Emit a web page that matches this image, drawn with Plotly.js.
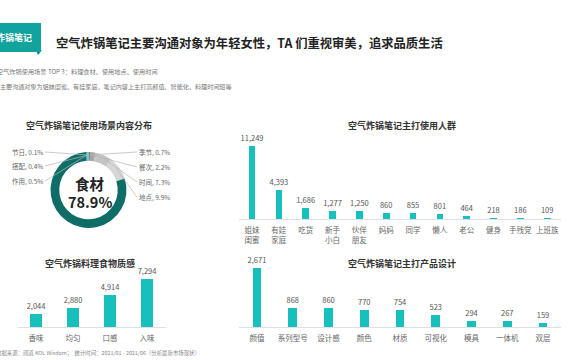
<!DOCTYPE html>
<html><head><meta charset="utf-8">
<script src="https://cdn.plot.ly/plotly-3.0.1.min.js"></script>
<style>html,body{margin:0;padding:0;background:#fff}#chart{width:570px;height:360px}</style>
</head><body><div id="chart"></div>
<script>
// ---- data ----
const sceneLabels = ['季节','餐次','时间','地点','食材','作用','搭配','节日'];
const sceneValues = [0.7, 2.2, 7.3, 9.9, 78.9, 0.5, 0.4, 0.1];
const sceneColors = ['#7a7a7a','#a6a6a6','#c4c4c4','#d6d6d6','#0e6e67','#1aa8a3','#4cc5c1','#22c3c0'];

const crowdCats = ['姐妹<br>闺蜜','有娃<br>家庭','吃货','新手<br>小白','伙伴<br>朋友','妈妈','同学','懒人','老公','健身','手残党','上班族'];
const crowdVals = [11249, 4393, 1686, 1277, 1250, 860, 855, 801, 464, 218, 186, 109];

const textureCats = ['香味','均匀','口感','入味'];
const textureVals = [2044, 2880, 4914, 7294];

const designCats = ['颜值','系列型号','设计感','颜色','材质','可视化','模具','一体机','双层'];
const designVals = [2671, 868, 860, 770, 754, 523, 294, 267, 159];

// ---- layout helpers ----
const W = 570, H = 360;
const FONT = '"Noto Sans CJK SC", "Noto Sans", sans-serif';
const px = x => x / W;
const py = y => 1 - y / H;
const BAR = '#17c0bd';

const traces = [];
// donut
const cx = 88.5, cy = 190, R = 38;
traces.push({
  type: 'pie', labels: sceneLabels, values: sceneValues, hole: 0.77,
  sort: false, direction: 'clockwise', rotation: 0,
  marker: {colors: sceneColors, line: {width: 0}},
  textinfo: 'none', hoverinfo: 'label+percent', showlegend: false,
  domain: {x: [px(cx - R), px(cx + R)], y: [py(cy + R), py(cy - R)]}
});

function barTrace(cats, vals, xa, ya, width) {
  return {
    type: 'bar', x: cats, y: vals, xaxis: xa, yaxis: ya, width: width,
    marker: {color: BAR}, text: vals.map(v => v.toLocaleString('en-US')),
    textposition: 'outside', cliponaxis: false, constraintext: 'none',
    textfont: {size: 7.5, color: '#555', family: FONT},
    showlegend: false, hoverinfo: 'x+y'
  };
}
traces.push(barTrace(crowdCats, crowdVals, 'x', 'y', 0.25));
traces.push(barTrace(textureCats, textureVals, 'x2', 'y2', 0.31));
traces.push(barTrace(designCats, designVals, 'x3', 'y3', 0.25));

function xax(domain, anchor) {
  return {domain: domain, anchor: anchor, showline: true, linecolor: '#e0e0e0', linewidth: 1,
    showgrid: false, zeroline: false, ticks: '', fixedrange: true, ticklabelstandoff: 4,
    tickfont: {size: 7.5, color: '#666', family: FONT}, tickangle: 0, automargin: false};
}
function yax(domain, anchor, max, k) {
  return {domain: domain, anchor: anchor, range: [0, max * k], visible: false, showgrid: false, zeroline: false, fixedrange: true};
}
const K = 1.12;
const layout = {
  width: W, height: H, margin: {l: 0, r: 0, t: 0, b: 0},
  paper_bgcolor: '#fff', plot_bgcolor: '#fff',
  font: {family: FONT},
  bargap: 0,
  xaxis: xax([px(238.6), px(560.6)], 'y'),
  yaxis: yax([py(219), py(219 - 73 * K)], 'x', crowdVals[0], K),
  xaxis2: xax([px(17.5), px(165.5)], 'y2'),
  yaxis2: yax([py(327), py(327 - 48 * K)], 'x2', textureVals[3], K),
  xaxis3: xax([px(239.1), px(560.9)], 'y3'),
  yaxis3: yax([py(327), py(327 - 59 * K)], 'x3', designVals[0], K),
  shapes: [
    {type: 'path', xref: 'paper', yref: 'paper', line: {width: 0}, fillcolor: '#0b7e79',
     path: `M ${px(36)} ${py(50)} L ${px(42)} ${py(50)} L ${px(38)} ${py(55)} Z`},
    {type: 'rect', xref: 'paper', yref: 'paper', line: {width: 0}, fillcolor: '#13a39e',
     x0: px(-5), x1: px(41), y0: py(52), y1: py(23)}
  ],
  annotations: []
};
const A = layout.annotations;
function txt(x, y, text, size, color, opts) {
  A.push(Object.assign({xref: 'paper', yref: 'paper', x: px(x), y: py(y), text: text, showarrow: false,
    font: {size: size, color: color, family: FONT}, xanchor: 'left', yanchor: 'middle'}, opts || {}));
}
// header
txt(34, 38, '<b>空气炸锅笔记</b>', 9, '#fff', {xanchor: 'right'});
txt(54, 43, '<b>空气炸锅笔记主要沟通对象为年轻女性，TA 们重视审美，追求品质生活</b>', 12.3, '#222');
txt(-5, 72, '空气炸锅使用场景 TOP 3：料理食材、使用地点、使用时间', 6.2, '#777');
txt(-2, 86, '主要沟通对象为姐妹闺蜜、有娃家庭，笔记内容上主打高颜值、智能化、料理时间短等', 6.1, '#777');
txt(-6, 353, '数据来源：闻道 KOL Wisdom；  统计时间：2021/01 - 2021/06（分析最新市场现状）', 5.4, '#888');
// chart titles
txt(89, 125, '<b>空气炸锅笔记使用场景内容分布</b>', 9, '#333', {xanchor: 'center'});
txt(402, 125, '<b>空气炸锅笔记主打使用人群</b>', 9, '#333', {xanchor: 'center'});
txt(90, 263, '<b>空气炸锅料理食物质感</b>', 9, '#333', {xanchor: 'center'});
txt(402, 263, '<b>空气炸锅笔记主打产品设计</b>', 9, '#333', {xanchor: 'center'});
// donut centre
const mainIdx = sceneValues.indexOf(Math.max(...sceneValues));
txt(cx + 1, 183, '<b>' + sceneLabels[mainIdx] + '</b>', 14.5, '#222', {xanchor: 'center'});
txt(cx + 1, 201, '<b>' + sceneValues[mainIdx].toFixed(1) + '%</b>', 14.5, '#222', {xanchor: 'center'});
// donut leader labels
const labelPos = {
  '季节': [137, 152, 'left'], '餐次': [137, 167, 'left'], '时间': [137, 182, 'left'], '地点': [137, 197, 'left'],
  '节日': [45, 152, 'right'], '搭配': [45, 166, 'right'], '作用': [45, 181, 'right']
};
const total = sceneValues.reduce((a, b) => a + b, 0);
let cum = 0;
sceneLabels.forEach((lab, i) => {
  const mid = (cum + sceneValues[i] / 2) / total;
  cum += sceneValues[i];
  const lp = labelPos[lab];
  if (!lp) return;
  const th = 2 * Math.PI * mid;
  const r = R - 3;
  const hx = cx + r * Math.sin(th), hy = cy - r * Math.cos(th);
  A.push({xref: 'paper', yref: 'paper', x: px(hx), y: py(hy), ax: lp[0] - hx, ay: lp[1] - hy,
    axref: 'pixel', ayref: 'pixel', showarrow: true, arrowhead: 0, arrowwidth: 0.7, arrowcolor: '#b5b5b5',
    text: lab + ', ' + sceneValues[i].toFixed(1) + '%', xanchor: lp[2], yanchor: 'middle',
    font: {size: 6.5, color: '#666', family: FONT}, borderpad: 1});
});
Plotly.newPlot('chart', traces, layout, {displayModeBar: false, staticPlot: true});
</script></body></html>
